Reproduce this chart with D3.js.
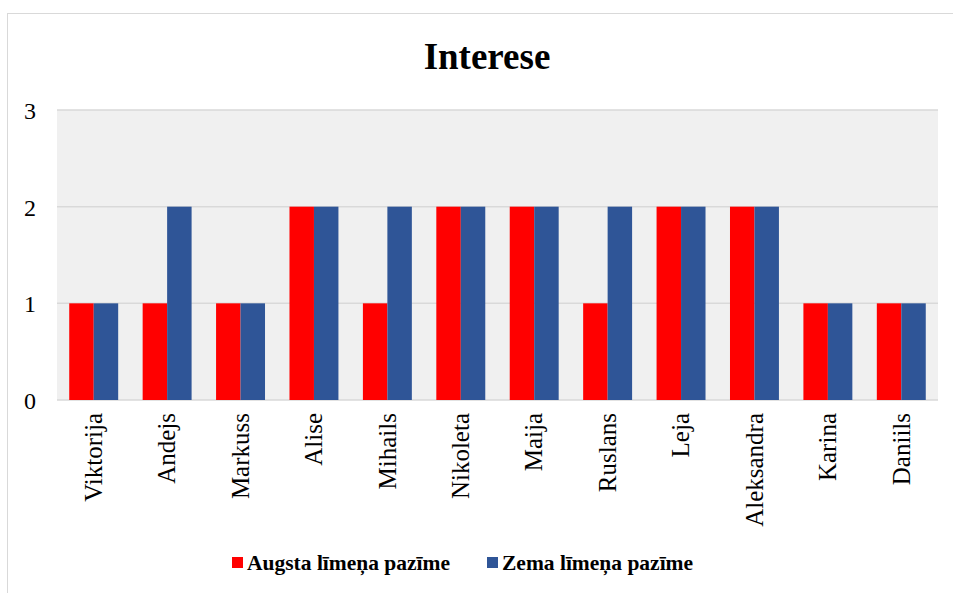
<!DOCTYPE html>
<meta charset="utf-8">
<title>Interese</title>
<style>
body { margin: 0; background: #fff; }
svg text { font-family: "Liberation Serif", "Times New Roman", serif; fill: #000; }
</style>
<body>
<svg width="953" height="593"></svg>
<script src="https://cdnjs.cloudflare.com/ajax/libs/d3/7.8.5/d3.min.js"></script>
<script>
// data
var names = ["Viktorija", "Andejs", "Markuss", "Alise", "Mihails", "Nikoleta",
             "Maija", "Ruslans", "Leja", "Aleksandra", "Karina", "Daniils"];
var augsta = [1, 1, 1, 2, 1, 2, 2, 1, 2, 2, 1, 1];
var zema   = [1, 2, 1, 2, 2, 2, 2, 2, 2, 2, 1, 1];
var seriesNames = ["Augsta līmeņa pazīme", "Zema līmeņa pazīme"];
var colors = ["#ff0000", "#2f5597"];
var yTicks = [0, 1, 2, 3];

var svg = d3.select("svg");
// note: "top" is taken by window.top, so plot edges get their own names
var plotL = 57, plotR = 938, plotT = 110, plotB = 400;

// chart frame
svg.append("rect")
  .attr("x", 7.5).attr("y", 13.5).attr("width", 1000).attr("height", 1000)
  .attr("fill", "none").attr("stroke", "#d9d9d9").attr("stroke-width", 1);

svg.append("text")
  .attr("x", 487).attr("y", 69)
  .attr("text-anchor", "middle")
  .style("font-size", "37px").style("font-weight", "bold")
  .text("Interese");

var x = d3.scaleBand().domain(names).range([plotL, plotR]).paddingInner(1/3).paddingOuter(1/6);
var xs = d3.scaleBand().domain([0, 1]).range([0, x.bandwidth()]);
var y = d3.scaleLinear().domain([0, 3]).range([plotB, plotT]);

// plot background
svg.append("rect")
  .attr("x", plotL).attr("y", plotT).attr("width", plotR - plotL).attr("height", plotB - plotT)
  .attr("fill", "#f0f0f0");

// gridlines
svg.append("g").selectAll("line").data(yTicks).enter().append("line")
  .attr("x1", plotL).attr("x2", plotR)
  .attr("y1", function(d){ return y(d); }).attr("y2", function(d){ return y(d); })
  .attr("stroke", "#d9d9d9").attr("stroke-width", 1.5);

// y axis labels
var yAxis = d3.axisLeft(y).tickValues(yTicks).tickSize(0).tickPadding(0).tickFormat(d3.format("d"));
var ya = svg.append("g").attr("transform", "translate(36,0)").call(yAxis);
ya.select(".domain").remove();
ya.attr("font-family", null).attr("font-size", null);
ya.selectAll("text").style("font-size", "24px").attr("dy", "0.35em");

// bars
var rows = names.map(function(n, i){ return {name: n, vals: [augsta[i], zema[i]]}; });
var grp = svg.append("g").selectAll("g").data(rows).enter().append("g")
  .attr("transform", function(d){ return "translate(" + x(d.name) + ",0)"; });
grp.selectAll("rect").data(function(d){ return d.vals; }).enter().append("rect")
  .attr("x", function(d, i){ return xs(i); })
  .attr("width", xs.bandwidth())
  .attr("y", function(d){ return y(d); })
  .attr("height", function(d){ return y(0) - y(d); })
  .attr("fill", function(d, i){ return colors[i]; });

// category labels (rotated)
var xAxis = d3.axisBottom(x).tickSize(0).tickPadding(0);
var xa = svg.append("g").attr("transform", "translate(0," + plotB + ")").call(xAxis);
xa.select(".domain").remove();
xa.attr("font-family", null).attr("font-size", null);
xa.selectAll("text")
  .style("font-size", "25px")
  .attr("transform", "rotate(-90)")
  .attr("text-anchor", "end")
  .attr("x", -13).attr("y", 0).attr("dy", "0.33em");

// legend
var legX = [232, 487];
var leg = svg.append("g").selectAll("g").data(seriesNames).enter().append("g")
  .attr("transform", function(d, i){ return "translate(" + legX[i] + ",557)"; });
leg.append("rect").attr("width", 11).attr("height", 11)
  .attr("fill", function(d, i){ return colors[i]; });
leg.append("text").attr("x", 15).attr("y", 13)
  .style("font-size", "21.5px").style("font-weight", "bold")
  .text(function(d){ return d; });
</script>
</body>
